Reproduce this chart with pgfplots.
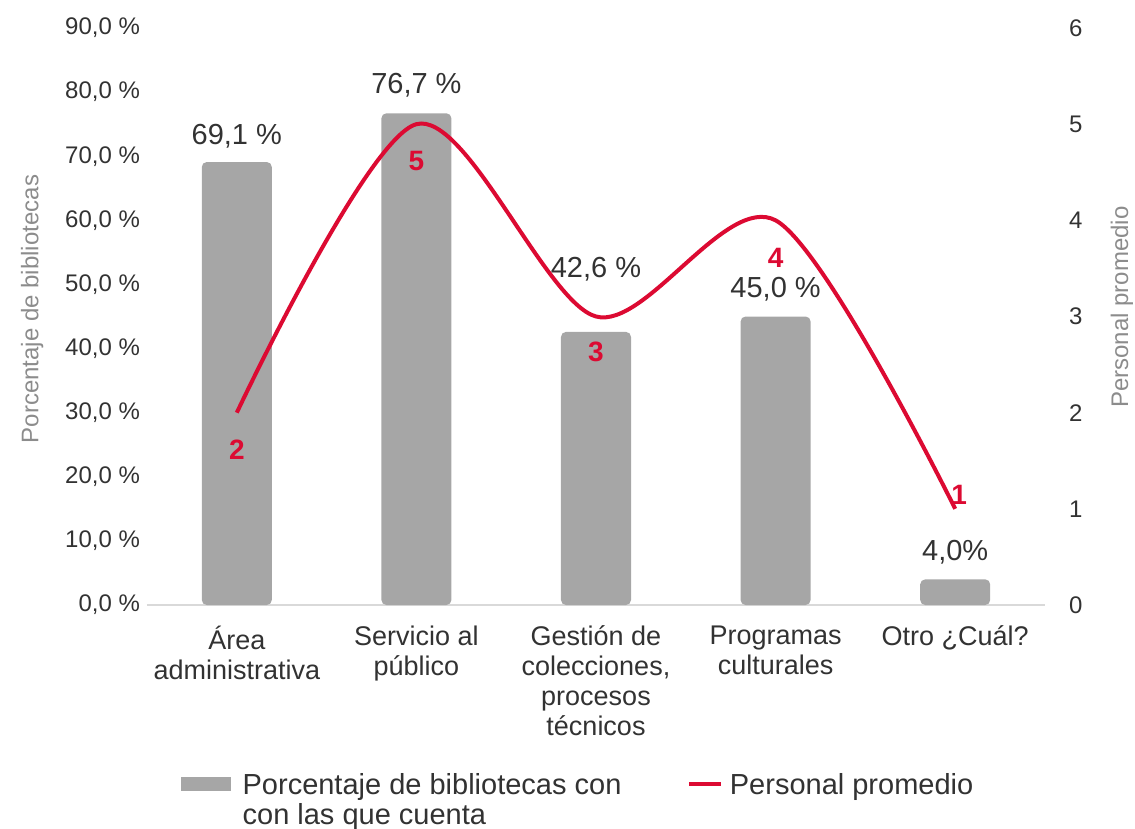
\documentclass[border=0pt]{standalone}
\usepackage{fontspec}
\setmainfont{Liberation Sans}
\usepackage{pgfplots}
\pgfplotsset{compat=1.18}
\usepackage{pgfplotstable}

\definecolor{barg}{RGB}{166,166,166}
\definecolor{lred}{RGB}{220,10,50}
\definecolor{txt}{RGB}{50,50,50}
\definecolor{lab}{RGB}{140,140,140}

% bar values, label text, label offset (pt)
\pgfplotstableread{
x y lbl dy
0 69.1 {69,1 \%} 13
1 76.7 {76,7 \%} 14
2 42.6 {42,6 \%} 31.5
3 45.0 {45,0 \%} 13.5
4 4.0 {4,0\%} 13.5
}\barsdata

% personal promedio
\pgfplotstableread{
x y dx dy
0 2 0 -18.5
1 5 0 -18.5
2 3 0 -17.5
3 4 0 -19
4 1 2 7
}\linedata

\begin{document}
\begin{tikzpicture}
\begin{axis}[
    scale only axis, width=449pt, height=288.5pt,
    at={(0,0)}, anchor=south west,
    xmin=-0.5, xmax=4.5, ymin=0, ymax=90,
    axis y line*=left, axis x line*=bottom,
    y axis line style={draw=none},
    x axis line style={draw=black!15, line width=1pt},
    major tick length=0pt,
    ytick={0,10,...,90},
    yticklabels={{0,0 \%},{10,0 \%},{20,0 \%},{30,0 \%},{40,0 \%},{50,0 \%},{60,0 \%},{70,0 \%},{80,0 \%},{90,0 \%}},
    yticklabel style={font=\fontsize{12}{14}\selectfont, text=txt},
    xtick={0,...,4},
    xticklabels={{Área\\administrativa},{Servicio al\\público},{Gestión de\\colecciones,\\procesos\\técnicos},{Programas\\culturales},{Otro ¿Cuál?}},
    xticklabel style={align=center, font=\fontsize{13.5}{15}\selectfont, text=txt, yshift=-7pt},
    ylabel={Porcentaje de bibliotecas},
    ylabel style={at={(axis description cs:-0.128,0.513)}, anchor=center, font=\fontsize{12}{14}\selectfont, text=lab},
    legend columns=2,
    legend style={at={(axis description cs:0.037,-0.284)}, anchor=north west, draw=none, inner sep=0pt,
        font=\fontsize{14.5}{15}\selectfont, text=txt,
        cells={anchor=base west},
        /tikz/every even column/.append style={column sep=31pt}},
]
\addplot[ybar, bar width=35pt, fill=barg, draw=none, rounded corners=2.5pt,
    legend image code/.code={\fill[barg, sharp corners] (0pt,1.5pt) rectangle (25pt,8.5pt); \path (29pt,5pt);},
    point meta=explicit symbolic,
    visualization depends on={\thisrow{dy} \as \dy},
    nodes near coords,
    every node near coord/.append style={anchor=center, yshift=\dy, text=txt,
        font=\fontsize{14.5}{16}\selectfont}]
    table[x=x, y=y, meta=lbl] {\barsdata};
\addlegendentry{\begin{tabular}[t]{@{}l@{}}Porcentaje de bibliotecas con\\con las que cuenta\end{tabular}}
\addlegendimage{legend image code/.code={\draw[lred, line width=2pt] (0pt,5pt) -- (16pt,5pt); \path (18pt,5pt);}}
\addlegendentry{Personal promedio}
\end{axis}

\begin{axis}[
    scale only axis, width=449pt, height=288.5pt,
    at={(0,0)}, anchor=south west,
    xmin=-0.5, xmax=4.5, ymin=0, ymax=6,
    axis y line*=right, hide x axis,
    y axis line style={draw=none},
    major tick length=0pt,
    ytick={0,...,6},
    /pgf/number format/assume math mode=true,
    yticklabel style={font=\fontsize{12}{14}\selectfont, text=txt, xshift=8.5pt},
    ylabel={Personal promedio},
    ylabel style={at={(axis description cs:1.0857,0.516)}, anchor=center, font=\fontsize{12}{14}\selectfont, text=lab},
]
\addplot[smooth, lred, line width=2pt, mark=none,
    point meta=y,
    visualization depends on={\thisrow{dx} \as \dx},
    visualization depends on={\thisrow{dy} \as \dyy},
    nodes near coords={\pgfmathprintnumber{\pgfplotspointmeta}},
    every node near coord/.append style={anchor=center, xshift=\dx, yshift=\dyy, text=lred,
        font=\fontsize{14}{16}\selectfont\bfseries}]
    table[x=x, y=y] {\linedata};
\end{axis}

\pgfresetboundingbox
\path (-73.5pt,-112pt) rectangle (494pt,302.5pt);
\end{tikzpicture}
\end{document}
